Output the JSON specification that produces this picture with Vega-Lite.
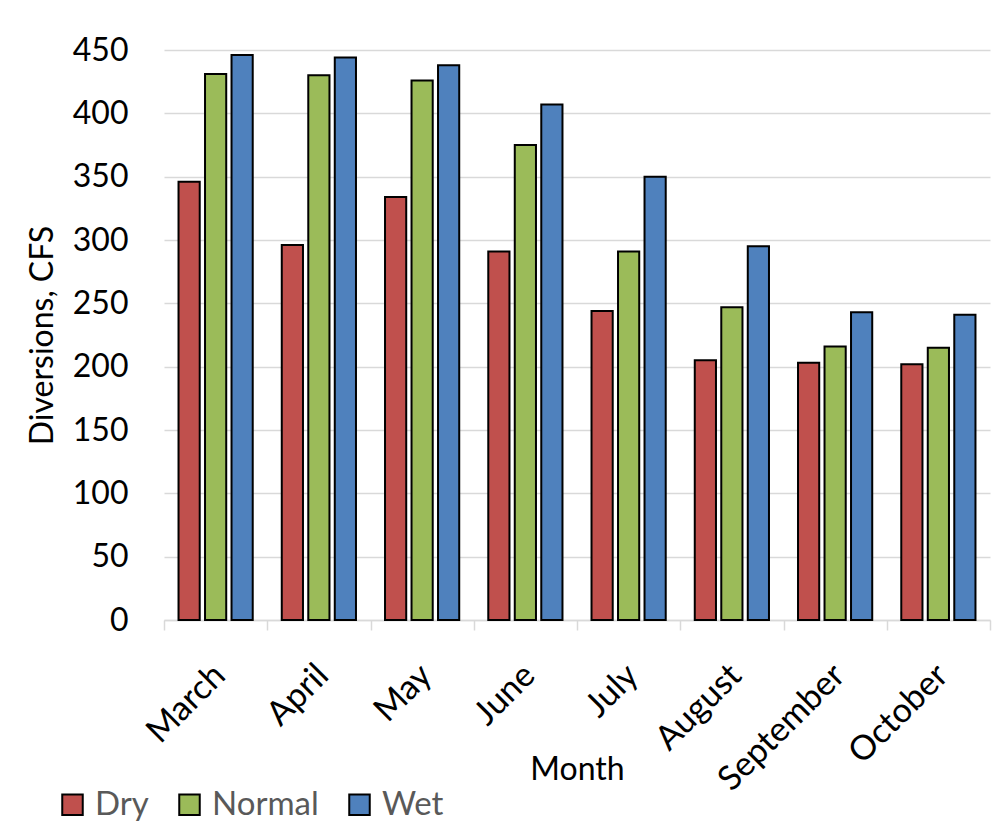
{
  "$schema": "https://vega.github.io/schema/vega-lite/v6.json",
  "width": 826,
  "height": 570,
  "autosize": "none",
  "padding": {"left": 164, "top": 50, "right": 12, "bottom": 218},
  "background": "white",
  "config": {"view": {"stroke": null}, "font": "Lato"},
  "data": {
    "values": [
      {"Month": "March", "Scenario": "Dry", "CFS": 346},
      {"Month": "March", "Scenario": "Normal", "CFS": 431},
      {"Month": "March", "Scenario": "Wet", "CFS": 446},
      {"Month": "April", "Scenario": "Dry", "CFS": 296},
      {"Month": "April", "Scenario": "Normal", "CFS": 430},
      {"Month": "April", "Scenario": "Wet", "CFS": 444},
      {"Month": "May", "Scenario": "Dry", "CFS": 334},
      {"Month": "May", "Scenario": "Normal", "CFS": 426},
      {"Month": "May", "Scenario": "Wet", "CFS": 438},
      {"Month": "June", "Scenario": "Dry", "CFS": 291},
      {"Month": "June", "Scenario": "Normal", "CFS": 375},
      {"Month": "June", "Scenario": "Wet", "CFS": 407},
      {"Month": "July", "Scenario": "Dry", "CFS": 244},
      {"Month": "July", "Scenario": "Normal", "CFS": 291},
      {"Month": "July", "Scenario": "Wet", "CFS": 350},
      {"Month": "August", "Scenario": "Dry", "CFS": 205},
      {"Month": "August", "Scenario": "Normal", "CFS": 247},
      {"Month": "August", "Scenario": "Wet", "CFS": 295},
      {"Month": "September", "Scenario": "Dry", "CFS": 203},
      {"Month": "September", "Scenario": "Normal", "CFS": 216},
      {"Month": "September", "Scenario": "Wet", "CFS": 243},
      {"Month": "October", "Scenario": "Dry", "CFS": 202},
      {"Month": "October", "Scenario": "Normal", "CFS": 215},
      {"Month": "October", "Scenario": "Wet", "CFS": 241}
    ]
  },
  "mark": {"type": "bar", "stroke": "black", "strokeWidth": 2},
  "encoding": {
    "x": {
      "field": "Month",
      "type": "nominal",
      "sort": null,
      "scale": {"paddingInner": 0, "paddingOuter": 0},
      "axis": {
        "title": "Month",
        "titleFontSize": 32,
        "titleFontWeight": "normal",
        "titleColor": "black",
        "titleBaseline": "alphabetic",
        "titleY": 159,
        "labelAngle": -45,
        "labelAlign": "right",
        "labelBaseline": "top",
        "labelFontSize": 34,
        "labelColor": "black",
        "labelPadding": 28,
        "labelOffset": -8,
        "tickBand": "extent",
        "tickSize": 10,
        "tickColor": "#d9d9d9",
        "tickWidth": 1.5,
        "domainColor": "#d9d9d9",
        "domainWidth": 1.5
      }
    },
    "xOffset": {
      "field": "Scenario",
      "type": "nominal",
      "scale": {"paddingInner": 0.2, "paddingOuter": 0.548}
    },
    "y": {
      "field": "CFS",
      "type": "quantitative",
      "scale": {"domain": [0, 450], "nice": false},
      "axis": {
        "title": "Diversions, CFS",
        "titleFontSize": 32,
        "titleFontWeight": "normal",
        "titleColor": "black",
        "titleAngle": -90,
        "titleX": -122,
        "titleY": 285,
        "titleAlign": "center",
        "titleBaseline": "middle",
        "values": [0, 50, 100, 150, 200, 250, 300, 350, 400, 450],
        "labelFontSize": 32,
        "labelColor": "black",
        "labelPadding": 36,
        "ticks": false,
        "domain": false,
        "gridColor": "#d9d9d9",
        "gridWidth": 1.5
      }
    },
    "color": {
      "field": "Scenario",
      "type": "nominal",
      "scale": {"domain": ["Dry", "Normal", "Wet"], "range": ["#C0504D", "#9BBB59", "#4F81BD"]},
      "legend": {
        "title": null,
        "orient": "none",
        "legendX": -108,
        "legendY": 738,
        "direction": "horizontal",
        "symbolType": "square",
        "symbolSize": 420,
        "symbolStrokeColor": "black",
        "symbolStrokeWidth": 2,
        "symbolOpacity": 1,
        "labelFontSize": 33,
        "labelColor": "#595959",
        "labelOffset": 6,
        "columnPadding": 24
      }
    }
  }
}
